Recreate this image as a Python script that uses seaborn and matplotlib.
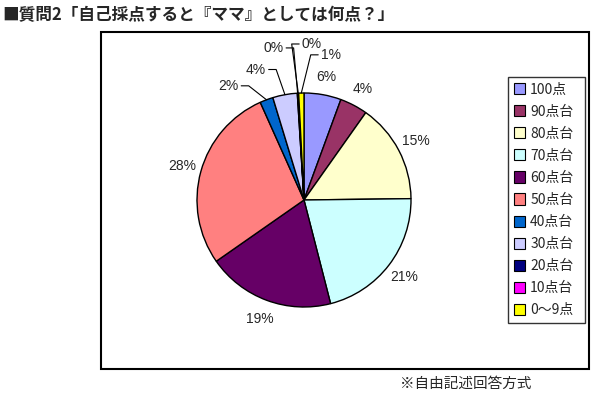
import numpy as np
import matplotlib
matplotlib.use("Agg")
import matplotlib.pyplot as plt
from matplotlib.patches import Rectangle, Patch
import seaborn as sns

# ---- data ----
categories = ["100点", "90点台", "80点台", "70点台", "60点台", "50点台",
              "40点台", "30点台", "20点台", "10点台", "0～9点"]
values = [5.6, 4.2, 15.0, 21.2, 19.3, 28.0, 2.0, 3.7, 0.1, 0.1, 0.8]
colors = ["#9999FF", "#993366", "#FFFFCC", "#CCFFFF", "#660066", "#FF8080",
          "#0066CC", "#CCCCFF", "#000080", "#FF00FF", "#FFFF00"]
title = "■質問2「自己採点すると『ママ』としては何点？」"
note = "※自由記述回答方式"

# label placement style: (radius, angle offset in degrees, leader line)
label_style = [(1.17, 0, False), (1.17, 0, False), (1.18, 0, False),
               (1.18, 0, False), (1.19, 0, False), (1.18, 0, False),
               (1.28, 13, True), (1.30, 10, True), (1.45, 8, True),
               (1.46, -6, True), (1.38, -12, True)]

sns.set_theme(style="white")
plt.rcParams['font.family'] = ['Noto Sans CJK JP', 'DejaVu Sans']

W, H = 606, 397
fig = plt.figure(figsize=(W / 100, H / 100), dpi=100)
fig.patch.set_facecolor("white")

def fx(px):
    return px / W

def fy(py):
    return 1 - py / H

# plot area border
fig.patches.append(Rectangle((fx(101), fy(369)), fx(589) - fx(101), fy(32) - fy(369),
                             transform=fig.transFigure, fill=False,
                             edgecolor="black", linewidth=1.5, zorder=0))

# pie axes
cx, cy, R = 304, 200, 107
ax = fig.add_axes([fx(cx - R), fy(cy + R), 2 * R / W, 2 * R / H])
wedges, _ = ax.pie(values, colors=colors, startangle=90, counterclock=False,
                   wedgeprops=dict(edgecolor="black", linewidth=1.0), radius=1.0)
ax.set_xlim(-1, 1)
ax.set_ylim(-1, 1)
ax.set_aspect("equal")
ax.axis("off")

total = sum(values)
cum = 0
for v, (r, off, lead) in zip(values, label_style):
    mid = 90 - 360 * (cum + v / 2) / total
    cum += v
    lab_ang = np.deg2rad(mid + off)
    lx, ly = r * np.cos(lab_ang), r * np.sin(lab_ang)
    ax.text(lx, ly, f"{round(v):.0f}%", ha="center", va="center", fontsize=10,
            family=["Liberation Sans", "DejaVu Sans"], clip_on=False)
    if lead:
        ma = np.deg2rad(mid)
        ex, ey = np.cos(ma), np.sin(ma)
        if lx < 0:
            sx = lx + 0.12
        else:
            sx = lx - 0.12
        stub_x = sx + (0.07 if lx < 0 else -0.07)
        ax.plot([sx, stub_x, ex], [ly, ly, ey], color="black", lw=0.8,
                clip_on=False)

# legend
handles = [Patch(facecolor=c, edgecolor="black", linewidth=0.8) for c in colors]
leg = fig.legend(handles, categories, loc="upper left",
                 bbox_to_anchor=(fx(508), fy(322), fx(585) - fx(508), fy(77) - fy(322)),
                 mode="expand", fontsize=10, frameon=True, fancybox=False,
                 handlelength=0.85, handleheight=0.85, handletextpad=0.35,
                 labelspacing=0.58, borderpad=0.4, borderaxespad=0)
leg.get_frame().set_edgecolor("black")
leg.get_frame().set_linewidth(1.0)

fig.text(fx(2), fy(15), title, fontsize=12, fontweight="bold", va="center", ha="left")
fig.text(fx(400), fy(384), note, fontsize=10.5, va="center", ha="left")

fig.savefig("out.png", dpi=100)
